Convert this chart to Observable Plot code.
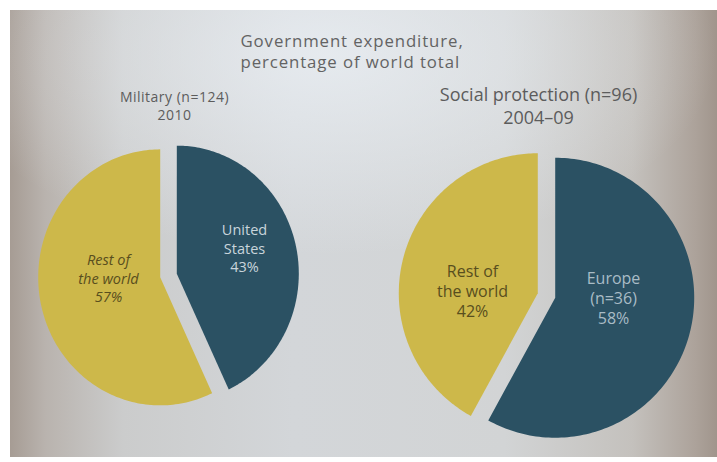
<!DOCTYPE html>
<html><head><meta charset="utf-8">
<script src="https://cdn.jsdelivr.net/npm/d3@7"></script>
<script src="https://cdn.jsdelivr.net/npm/@observablehq/plot@0.6"></script>
<style>
html,body{margin:0;padding:0;background:#fff;}
#wrap{position:relative;width:717px;height:462px;overflow:hidden;}
#photo{position:absolute;left:10px;top:10px;width:707px;height:447px;
background:
 radial-gradient(ellipse 55% 45% at 45% 10%, rgba(236,241,246,0.75), rgba(236,241,246,0) 100%),
 linear-gradient(to right, #a69c94 0%, #b9b3ae 5%, #cbcccc 16%, #d3d6d9 40%, #d2d4d5 70%, #c4c1bd 88%, #aca29a 97%, #a0958c 100%);}
#chart{position:absolute;left:0;top:0;}
</style></head><body>
<div id="wrap"><div id="photo"></div><div id="chart"></div></div>
<script>
// ---- data ----
const titleLines = ["Government expenditure,", "percentage of world total"];
const pieTitles = ["Military (n=124)", "Social protection (n=96)"];
const pieYears = ["2010", "2004–09"];
const militaryCategories = ["United\nStates", "Rest of\nthe world"];
const militaryShares = [43, 57];
const socialCategories = ["Europe\n(n=36)", "Rest of\nthe world"];
const socialShares = [58, 42];

// ---- layout / style ----
const sliceColors = ["#2b5163", "#cdb84a"];
const labelColors = [["#c9d5dc", "#584e1e"], ["#a9bcc6", "#584e1e"]];
const layout = [
  {cx: 168, cy: 275, rx: 122, ry: 128, explode: 8.5, titleX: 174, titleY: 97, yearY: 115.5, titleSize: 14,
   labelSize: 14.5, lineHeight: 1.3, labelStyle: ["normal", "italic"], labelPos: [[76, -28], [-60, 2]]},
  {cx: 546, cy: 295, rx: 139, ry: 140, explode: 9, titleX: 538, titleY: 95, yearY: 118, titleSize: 18,
   labelSize: 16, lineHeight: 1.25, labelStyle: ["normal", "normal"], labelPos: [[67, 2], [-74, -5]]}
];
const pieData = [
  {cats: militaryCategories, vals: militaryShares},
  {cats: socialCategories, vals: socialShares}
];

const marks = [];
// title
marks.push(Plot.text(titleLines, {
  x: () => 240, y: (d, i) => 41.5 + i * 21, text: d => d, textAnchor: "start",
  fontSize: 16.8, fill: "#636363"
}));

pieData.forEach((p, k) => {
  const L = layout[k];
  const arcs = d3.pie().sort(null).startAngle(0).endAngle(2 * Math.PI)(p.vals);
  arcs.forEach((a, j) => {
    const mid = (a.startAngle + a.endAngle) / 2;
    const ox = L.cx + L.explode * Math.sin(mid);
    const oy = L.cy - L.explode * Math.cos(mid);
    const n = 160;
    const pts = [{x: ox, y: oy}];
    for (let s = 0; s <= n; s++) {
      const t = a.startAngle + (a.endAngle - a.startAngle) * s / n;
      pts.push({x: ox + L.rx * Math.sin(t), y: oy - L.ry * Math.cos(t)});
    }
    marks.push(Plot.line(pts, {x: "x", y: "y", fill: sliceColors[j], stroke: "none", curve: "linear-closed"}));
    marks.push(Plot.text([`${p.cats[j]}\n${p.vals[j]}%`], {
      x: () => L.cx + L.labelPos[j][0], y: () => L.cy + L.labelPos[j][1], text: d => d,
      fontSize: L.labelSize, lineHeight: L.lineHeight, fill: labelColors[k][j], fontStyle: L.labelStyle[j]
    }));
  });
  marks.push(Plot.text([pieTitles[k]], {x: () => L.titleX, y: () => L.titleY, text: d => d, fontSize: L.titleSize, fill: "#5c5c5c"}));
  marks.push(Plot.text([pieYears[k]], {x: () => L.titleX, y: () => L.yearY, text: d => d, fontSize: L.titleSize, fill: "#5c5c5c"}));
});

const chart = Plot.plot({
  width: 717, height: 462, margin: 0,
  x: {domain: [0, 717], range: [0, 717], axis: null},
  y: {domain: [0, 462], range: [0, 462], axis: null},
  style: {background: "transparent", fontFamily: "'Open Sans', sans-serif"},
  marks
});
d3.select(chart).selectAll("text")
  .filter(function () { return titleLines.includes(this.textContent); })
  .style("letter-spacing", "0.9px");
d3.select(chart).selectAll("text")
  .filter(function () { return this.textContent === pieTitles[0] || this.textContent === pieYears[0]; })
  .style("letter-spacing", "0.5px");
document.getElementById("chart").appendChild(chart);
</script>
</body></html>
